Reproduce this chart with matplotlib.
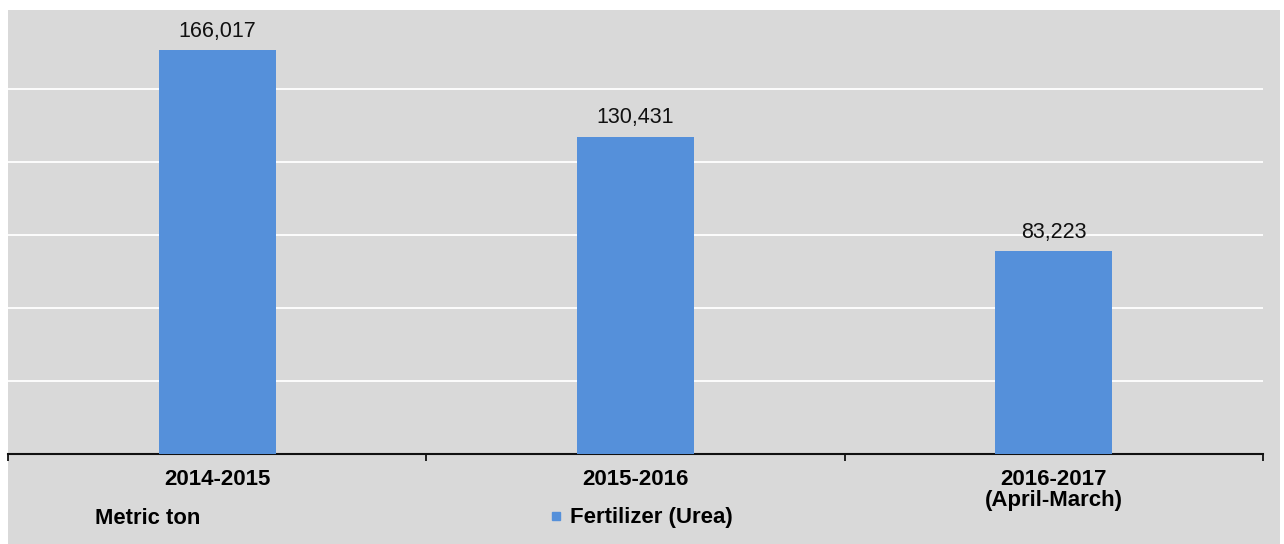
import matplotlib.pyplot as plt
from matplotlib.patches import Rectangle
from matplotlib.lines import Line2D

categories = ['2014-2015', '2015-2016', '2016-2017\n(April-March)']
urea = [166017, 130431, 83223]
grid_ticks = [30000, 60000, 90000, 120000, 150000]

plt.rcParams['font.family'] = ['Liberation Sans', 'DejaVu Sans']

bg = '#d9d9d9'
bar_color = '#5590da'

fig = plt.figure(figsize=(12.84, 5.44), dpi=100, facecolor='white')
ax = fig.add_axes([8 / 1284, 90 / 544, 1255 / 1284, 438 / 544])
ax.set_facecolor(bg)
# grey panel behind the whole chart
fig.patches.append(Rectangle((8 / 1284, 0), 1272 / 1284, 534 / 544,
                             transform=fig.transFigure, facecolor=bg,
                             edgecolor='none', zorder=-10))

x = range(len(categories))
bars = ax.bar(x, urea, width=0.28, color=bar_color, zorder=3)
for b, v in zip(bars, urea):
    ax.annotate(f'{v:,}', (b.get_x() + b.get_width() / 2, v),
                xytext=(0, 6), textcoords='offset points',
                ha='center', va='bottom', fontsize=15.5, color='#111111')

ax.set_xlim(-0.5, 2.5)
ax.set_ylim(0, 180000)
ax.set_yticks(grid_ticks)
ax.yaxis.grid(True, color='white', linewidth=1.3, zorder=1)
ax.set_axisbelow(True)
ax.tick_params(axis='y', left=False, labelleft=False)

ax.set_xticks(list(x))
ax.set_xticklabels(categories, fontweight='bold', fontsize=16,
                   linespacing=1.0)
ax.set_xticks([-0.5, 0.5, 1.5, 2.5], minor=True)
ax.tick_params(axis='x', which='major', length=0, pad=11)
ax.tick_params(axis='x', which='minor', length=5, width=1.2, direction='out')

for s in ['top', 'right', 'left']:
    ax.spines[s].set_visible(False)
ax.spines['bottom'].set_color('#111111')
ax.spines['bottom'].set_linewidth(1.5)

fig.text(95 / 1284, 1 - 518 / 544, 'Metric ton', fontweight='bold',
         fontsize=15.8, va='center', ha='left')

handle = Line2D([], [], marker='s', color=bar_color, linestyle='none',
                markersize=6)
fig.legend([handle], ['Fertilizer (Urea)'], loc='center',
           bbox_to_anchor=(640 / 1284, 1 - 518 / 544), frameon=False,
           prop={'weight': 'bold', 'size': 16}, handletextpad=0.2,
           handlelength=0.8)

fig.savefig('out.png', dpi=100, facecolor=fig.get_facecolor())
